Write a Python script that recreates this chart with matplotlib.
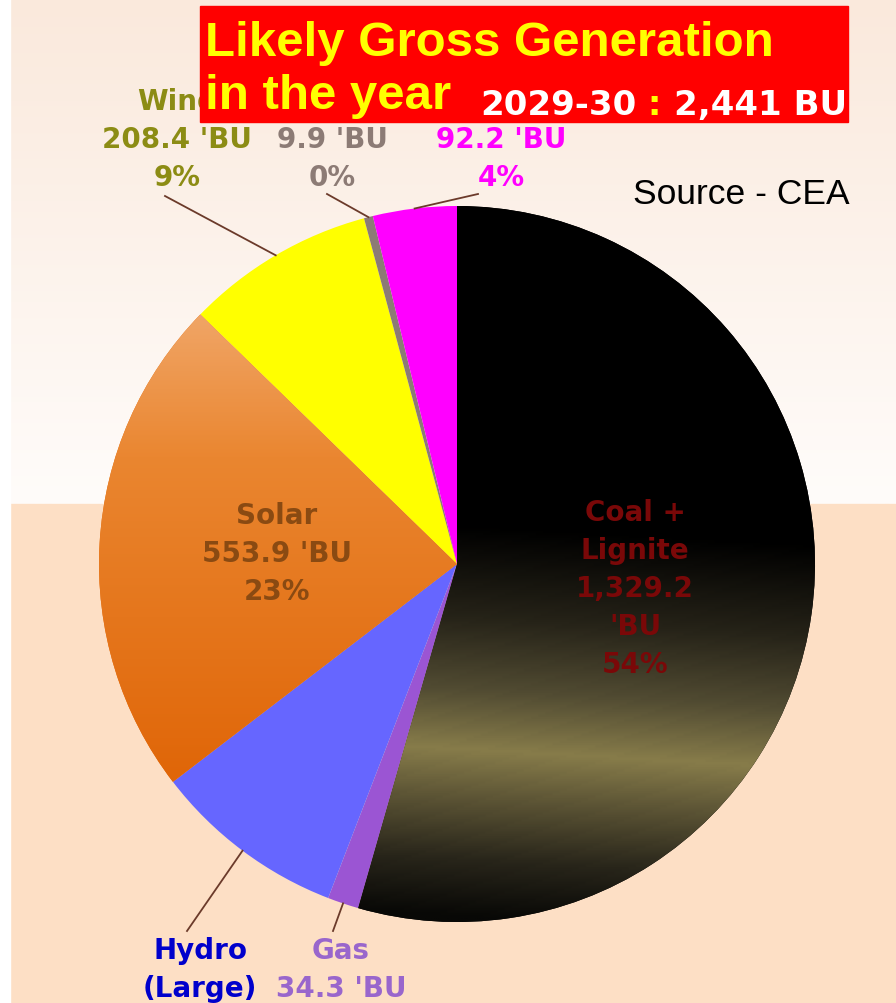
import numpy as np
import matplotlib.pyplot as plt
from matplotlib.colors import LinearSegmentedColormap
from matplotlib.patches import Rectangle

# data (billion units, 2029-30)
sources = ['Coal +\nLignite', 'Gas', 'Hydro\n(Large)', 'Solar', 'Wind', None, None]
generation_bu = [1329.2, 34.3, 213.1, 553.9, 208.4, 9.9, 92.2]
total_bu = 2441
year = '2029-30'

slice_colors = ['#000000', '#9B55D3', '#6666FF', '#E46C0A', '#FFFF00', '#8C7B75', '#FF00FF']
label_colors = ['#7A0808', '#9966CC', '#0000CC', '#8A4A12', '#8C8C14', '#8C7B75', '#FF00FF']

# layout in image pixels (y measured from top)
W, H = 896, 1004
cx, cy, R = 457, 565, 358
label_xy = [(635, 589, 'center'), (341, 937, 'top'), (200, 937, 'top'), (277, 554, 'center'),
            (177, 140, 'center'), (332, 159, 'center'), (501, 159, 'center')]
leader_end = [None, (333, 932), (187, 932), None, (165, 197), (327, 195), (478, 195)]


def Y(y):
    return H - y


fig = plt.figure(figsize=(W / 100, H / 100), dpi=100)
ax = fig.add_axes([0, 0, 1, 1])

# background: pale gradient on top, peach band below
bg_top = LinearSegmentedColormap.from_list('bgtop', ['#FAE9DC', '#FFFCFA'])
ax.imshow(np.linspace(0, 1, 256).reshape(-1, 1), cmap=bg_top, aspect='auto',
          extent=[0, W, Y(505), Y(0)], zorder=0)
ax.add_patch(Rectangle((0, 0), W, Y(505), color='#FDDFC5', zorder=0.5))
ax.add_patch(Rectangle((0, 0), 10, H, color='white', zorder=0.6))

wedges, _ = ax.pie(generation_bu, colors=slice_colors, startangle=90, counterclock=False,
                   radius=R, center=(cx, Y(cy)), wedgeprops=dict(linewidth=0))
for w in wedges:
    w.set_zorder(2)

# shading of coal and solar slices
xx, yy = np.meshgrid(np.linspace(cx - R, cx + R, 300), np.linspace(cy - R, cy + R, 300))
t_coal = np.clip((yy - (cy - R) - 0.055 * (xx - 520)) / (2 * R), 0, 1)
coal_cmap = LinearSegmentedColormap.from_list('coal', [
    (0, '#000000'), (0.45, '#000000'), (0.58, '#262318'), (0.68, '#514B32'),
    (0.765, '#877C4A'), (0.83, '#5E5636'), (0.92, '#28251A'), (1, '#080806')])
im = ax.imshow(t_coal, cmap=coal_cmap, vmin=0, vmax=1, aspect='auto',
               extent=[cx - R, cx + R, Y(cy + R), Y(cy - R)], zorder=2.1)
im.set_clip_path(wedges[0])

t_solar = np.clip((yy - 320) / 460, 0, 1)
solar_cmap = LinearSegmentedColormap.from_list('solar', [
    (0, '#F0A464'), (0.3, '#EA8630'), (1, '#E06608')])
im2 = ax.imshow(t_solar, cmap=solar_cmap, vmin=0, vmax=1, aspect='auto',
                extent=[cx - R, cx + R, Y(cy + R), Y(cy - R)], zorder=2.1)
im2.set_clip_path(wedges[3])

# labels and leader lines
for i, v in enumerate(generation_bu):
    pct = v / total_bu * 100
    val = f"{v:,.1f} 'BU"
    if v > 1000:
        val = val.replace(" '", "\n'")
    txt = f"{val}\n{pct:.0f}%"
    if sources[i]:
        txt = sources[i] + '\n' + txt
    lx, ly, va = label_xy[i]
    ax.text(lx, Y(ly), txt, ha='center', va=va, color=label_colors[i],
            fontsize=20, fontweight='bold', family='DejaVu Sans', linespacing=1.45, zorder=4)
    if leader_end[i]:
        w = wedges[i]
        mid = np.deg2rad((w.theta1 + w.theta2) / 2)
        x0, y0 = cx + R * np.cos(mid), Y(cy) + R * np.sin(mid)
        ex, ey = leader_end[i]
        ax.plot([x0, ex], [y0, Y(ey)], color='#6B3A2A', lw=1.3, zorder=3)

# title box
ax.add_patch(Rectangle((200, Y(123)), 648, 116, color='#FF0000', zorder=5))
ax.text(205, Y(56), 'Likely Gross Generation', family='Liberation Sans', fontweight='bold',
        fontsize=35.5, color='#FFFF00', va='baseline', ha='left', zorder=6)
ax.text(205, Y(109), 'in the year', family='Liberation Sans', fontweight='bold',
        fontsize=35.5, color='#FFFF00', va='baseline', ha='left', zorder=6)
t1 = ax.text(480, Y(115), year, family='DejaVu Sans', fontweight='bold', fontsize=24.5,
             color='white', va='baseline', ha='left', zorder=6)
t2 = ax.annotate(' : ', xy=(1, 0), xycoords=t1, va='bottom', ha='left', family='DejaVu Sans',
                 fontweight='bold', fontsize=24.5, color='#FFFF00', zorder=6)
ax.annotate(f'{total_bu:,} BU', xy=(1, 0), xycoords=t2, va='bottom', ha='left',
            family='DejaVu Sans', fontweight='bold', fontsize=24.5, color='white', zorder=6)

ax.text(633, Y(204), 'Source - CEA', family='Liberation Sans', fontsize=25.5,
        color='black', va='baseline', ha='left', zorder=6)

ax.set_xlim(0, W)
ax.set_ylim(0, H)
ax.set_aspect('auto')
ax.axis('off')

plt.savefig('out.png', dpi=100)
